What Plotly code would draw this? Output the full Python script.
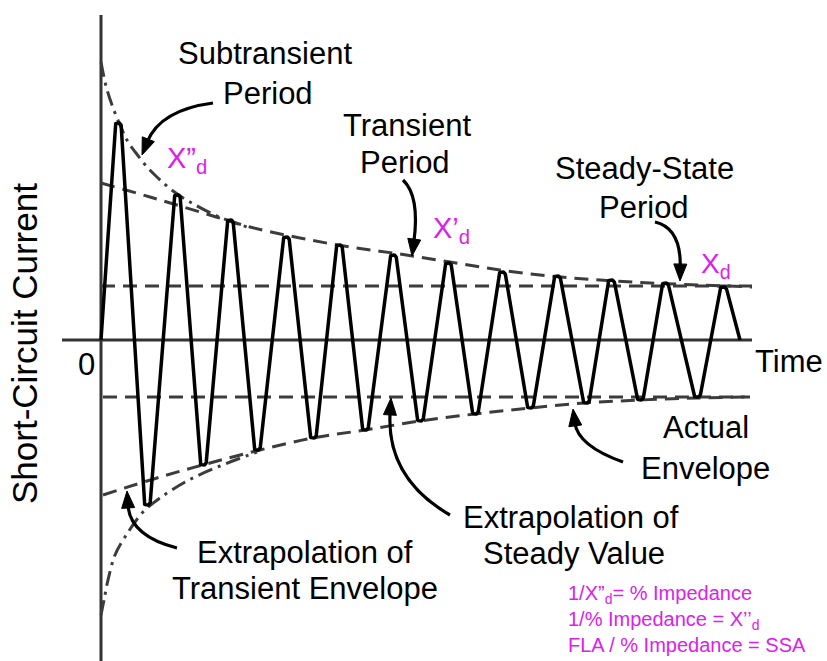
import math
import plotly.graph_objects as go

# ---------------- data (chart units: time t to the right, current i upward; origin at axes crossing)
peak_t = [17, 76, 129, 185, 238, 292, 347, 401, 456, 510, 564, 622]
peak_i = [217, 145, 120, 103, 95, 85, 77, 68, 64, 60, 57, 53]
trough_t = [46, 102, 156, 212, 264, 319, 374, 429, 485, 539, 596]
trough_i = [-165, -125, -110, -98, -90, -81, -74, -68, -63, -60, -57]
wave_start_t, wave_start_i = 0, 0
wave_end_t, wave_end_i = 639, 0

steady_t = [0, 651]
steady_upper_i = [54, 54]
steady_lower_t = [2, 649]
steady_lower_i = [-57, -57]

trans_up_t = [0, 49, 99, 149, 199, 249, 299, 349, 399, 449, 499, 549, 599, 651]
trans_up_i = [157, 143, 128, 113, 102, 93, 86, 78, 70, 64, 60, 57, 55, 53]
trans_lo_t = [2, 59, 109, 159, 212, 264, 319, 374, 429, 484, 539, 596, 649]
trans_lo_i = [-155, -137, -123, -110, -98, -90, -81, -74, -68, -63, -60, -58, -57]

sub_up_t = [0, 5, 11, 19, 27, 35, 46, 57, 72, 89, 116, 149]
sub_up_i = [278, 254, 235, 215, 198, 187, 173, 162, 149, 138, 124, 112]
sub_lo_t = [0, 3, 7, 14, 24, 42, 59, 86, 119, 156]
sub_lo_i = [-275, -260, -240, -215, -197, -172, -158, -141, -126, -112]

formula_lines = ["1/X”<sub>d</sub>= % Impedance",
                 "1/% Impedance = X’’<sub>d</sub>",
                 "FLA / % Impedance = SSA"]

# ---------------- layout constants
W, H = 827, 661
OX, OY = 101, 340          # pixel position of the origin
FONT = "Liberation Sans, Arial, sans-serif"
MAGENTA = "#dc20ec"
GRAY = "#3c3c3c"


def C(px, py):
    """pixel position -> chart coordinates"""
    return px - OX, OY - py


# ---------------- waveform with slightly rounded tips
verts = [(wave_start_t, wave_start_i)]
ext = []
for k in range(len(peak_t)):
    ext.append((peak_t[k], peak_i[k]))
    if k < len(trough_t):
        ext.append((trough_t[k], trough_i[k]))
cap = 3
for (t, i) in ext:
    verts.append((t - cap, i))
    verts.append((t + cap, i))
verts.append((wave_end_t, wave_end_i))


def rounded(pts, r=5.0, n=6):
    out = [pts[0]]
    for j in range(1, len(pts) - 1):
        P, V, N = pts[j - 1], pts[j], pts[j + 1]
        d1 = math.dist(P, V)
        d2 = math.dist(V, N)
        re = min(r, 0.5 * d1, 0.5 * d2)
        A = (V[0] + re * (P[0] - V[0]) / d1, V[1] + re * (P[1] - V[1]) / d1)
        B = (V[0] + re * (N[0] - V[0]) / d2, V[1] + re * (N[1] - V[1]) / d2)
        for s in range(n + 1):
            u = s / n
            x = (1 - u) ** 2 * A[0] + 2 * (1 - u) * u * V[0] + u ** 2 * B[0]
            y = (1 - u) ** 2 * A[1] + 2 * (1 - u) * u * V[1] + u ** 2 * B[1]
            out.append((x, y))
    out.append(pts[-1])
    return out


wave = rounded(verts)

fig = go.Figure()

dash_style = "14px,8px"
dashdot_style = "15px,6px,3px,6px"

# envelopes
fig.add_trace(go.Scatter(x=steady_t, y=steady_upper_i, mode="lines",
                         line=dict(color=GRAY, width=3, dash=dash_style)))
fig.add_trace(go.Scatter(x=steady_lower_t, y=steady_lower_i, mode="lines",
                         line=dict(color=GRAY, width=3, dash=dash_style)))
fig.add_trace(go.Scatter(x=trans_up_t, y=trans_up_i, mode="lines",
                         line=dict(color=GRAY, width=3, dash=dash_style, shape="spline")))
fig.add_trace(go.Scatter(x=trans_lo_t, y=trans_lo_i, mode="lines",
                         line=dict(color=GRAY, width=3, dash=dash_style, shape="spline")))
fig.add_trace(go.Scatter(x=sub_up_t, y=sub_up_i, mode="lines",
                         line=dict(color=GRAY, width=3, dash=dashdot_style, shape="spline")))
fig.add_trace(go.Scatter(x=sub_lo_t, y=sub_lo_i, mode="lines",
                         line=dict(color=GRAY, width=3, dash=dashdot_style, shape="spline")))

# waveform
fig.add_trace(go.Scatter(x=[p[0] for p in wave], y=[p[1] for p in wave], mode="lines",
                         line=dict(color="black", width=3.5)))

shapes = []
# axes
shapes.append(dict(type="line", xref="x", yref="y", x0=0, x1=0, y0=C(0, 15)[1], y1=C(0, 661)[1],
                   line=dict(color="#333333", width=3), layer="below"))
shapes.append(dict(type="line", xref="x", yref="y", x0=C(62, 0)[0], x1=C(752, 0)[0], y0=0, y1=0,
                   line=dict(color="#333333", width=3), layer="below"))

# curved arrows: (start, control, tip) in pixel positions
arrows = [
    ((213, 103), (160, 110), (142, 155)),
    ((403, 180), (420, 196), (412, 256)),
    ((655, 222), (681, 228), (680, 281)),
    ((623, 462), (578, 446), (573, 409)),
    ((450, 515), (386, 478), (391, 398)),
    ((177, 548), (130, 536), (127, 491)),
]
for s, c, t in arrows:
    dx, dy = t[0] - c[0], t[1] - c[1]
    L = math.hypot(dx, dy)
    ux, uy = dx / L, dy / L
    hl, hw = 17, 6.5
    bx, by = t[0] - hl * ux, t[1] - hl * uy
    ex, ey = t[0] - (hl - 3) * ux, t[1] - (hl - 3) * uy
    sx, sy = C(*s)
    cx, cy = C(*c)
    qx, qy = C(ex, ey)
    shapes.append(dict(type="path", xref="x", yref="y",
                       path=f"M {sx},{sy} Q {cx},{cy} {qx},{qy}",
                       line=dict(color="black", width=3.2)))
    p1 = C(bx - hw * uy, by + hw * ux)
    p2 = C(bx + hw * uy, by - hw * ux)
    tp = C(*t)
    shapes.append(dict(type="path", xref="x", yref="y",
                       path=f"M {tp[0]},{tp[1]} L {p1[0]},{p1[1]} L {p2[0]},{p2[1]} Z",
                       fillcolor="black", line=dict(color="black", width=1)))

annotations = []


def label(text, px, py, size=31, color="black", xanchor="center", angle=0, align="center"):
    x, y = C(px, py)
    annotations.append(dict(text=text, x=x, y=y, xref="x", yref="y", showarrow=False,
                            xanchor=xanchor, yanchor="middle", textangle=angle, align=align,
                            font=dict(family=FONT, size=size, color=color)))


label("Subtransient", 265, 53)
label("Period", 268, 93)
label("Transient", 407, 125)
label("Period", 405, 162)
label("Steady-State", 644, 168)
label("Period", 644, 207)
label("Actual", 706, 427)
label("Envelope", 705, 468)
label("Extrapolation of", 571, 517)
label("Steady Value", 574, 553)
label("Extrapolation of", 305, 552)
label("Transient Envelope", 305, 588)
label("0", 86, 364)
label("Time", 789, 361)
label("Short-Circuit Current", 24, 344, size=35, angle=-90)

label("X”<sub>d</sub>", 165, 160, size=29, color=MAGENTA, xanchor="left")
label("X’<sub>d</sub>", 431, 230, size=29, color=MAGENTA, xanchor="left")
label("X<sub>d</sub>", 699, 265, size=28, color=MAGENTA, xanchor="left")

label("<br>".join(formula_lines), 566, 619, size=20, color=MAGENTA, xanchor="left", align="left")

fig.update_layout(
    width=W, height=H,
    margin=dict(l=0, r=0, t=0, b=0),
    paper_bgcolor="white", plot_bgcolor="white",
    showlegend=False,
    xaxis=dict(visible=False, range=[-OX, W - OX], fixedrange=True),
    yaxis=dict(visible=False, range=[OY - H, OY], fixedrange=True),
    shapes=shapes,
    annotations=annotations,
)

fig.write_html("out.html", config={"displayModeBar": False},
               post_script="document.body.style.margin='0px';document.body.style.overflow='hidden';")
